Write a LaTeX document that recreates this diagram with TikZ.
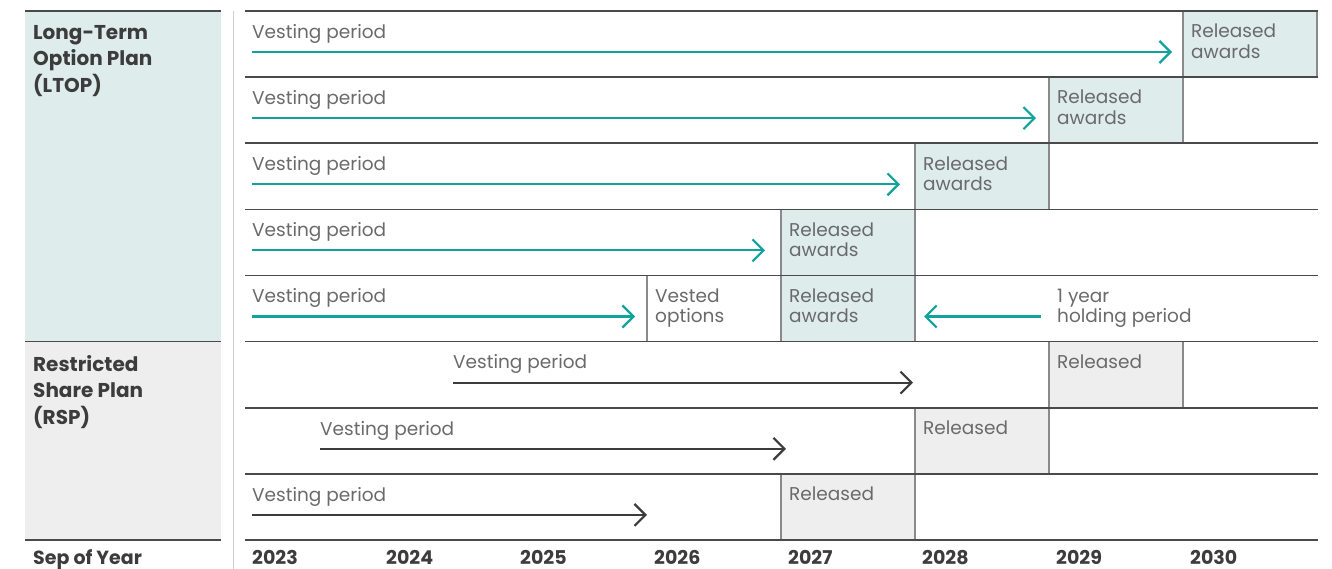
\documentclass[tikz,border=0pt]{standalone}
\usepackage{fontspec}
\setmainfont{Poppins}
\usetikzlibrary{arrows.meta,positioning}
\definecolor{tealarrow}{HTML}{0FA39B}
\definecolor{tealfill}{HTML}{DEECEB}
\definecolor{greyfill}{HTML}{EEEEEE}
\definecolor{txtgrey}{HTML}{6A6A6A}
\definecolor{darktxt}{HTML}{3C3C3C}
\definecolor{rulegrey}{HTML}{4A4A4A}
\definecolor{boxline}{HTML}{8A8A8A}

\begin{document}
\begin{tikzpicture}[x=1pt,y=-1pt,
        rel/.style={
        draw=boxline, line width=1.2pt,
        anchor=north west, inner sep=0pt, outer sep=0pt,
        minimum width=134pt, minimum height=66.1pt},
        ltopbox/.style={rel, fill=tealfill},
        rspbox/.style={rel, fill=greyfill},
        vestbox/.style={rel, fill=white},
        txt/.style={anchor=north west, align=left, inner sep=0pt,
        text=txtgrey, font=\fontsize{18.5}{20.5}\selectfont},
        head/.style={anchor=north west, align=left, inner sep=0pt,
        text=darktxt, font=\fontsize{20}{26.5}\selectfont\bfseries},
        yr/.style={anchor=base west, inner sep=0pt,
        text=darktxt, font=\fontsize{19}{20}\selectfont\bfseries},
        rowline/.style={draw=rulegrey, line width=1.6pt},
        vest/.style={draw=tealarrow, line width=2.2pt,
        -{Straight Barb[length=11pt,width=22pt]}},
        rspvest/.style={vest, draw=darktxt},
        ]

        \useasboundingbox (0,0) rectangle (1332,569);

        % plan column
        \fill[tealfill] (25,11) rectangle (221,341.6);
        \fill[greyfill] (25,341.6) rectangle (221,540);
        \foreach \y in {11,341.6,540}
            \draw[rowline] (25,\y) -- (221,\y);
        \draw[black!20, line width=1pt] (233,11) -- (233,569);

        \node (ltop) [head] at (33,25) {Long-Term\\Option Plan\\(LTOP)};
        \node (rsp) [head] at (33,355) {Restricted\\Share Plan\\(RSP)};

        % released boxes
        \node (r1) [ltopbox] at (1183,11){};
        \node (r2) [ltopbox] at (1049,77.1){};
        \node (r3) [ltopbox] at (915,143.3){};
        \node (r4) [ltopbox] at (781,209.4){};
        \node (o5) [vestbox] at (647,275.5){};
        \node (r5) [ltopbox] at (781,275.5){};
        \node (r6) [rspbox] at (1049,341.6){};
        \node (r7) [rspbox] at (915,407.8){};
        \node (r8) [rspbox] at (781,473.9){};

        \foreach \y in {11,77.1,143.3,209.4,275.5,341.6,407.8,473.9,540}
            \draw[rowline] (245,\y) -- (1318,\y);

        \node (t1) [txt, below right=13pt and 8pt of r1.north west] {Released\\awards};
        \node (t2) [txt, below right=13pt and 8pt of r2.north west] {Released\\awards};
        \node (t3) [txt, below right=13pt and 8pt of r3.north west] {Released\\awards};
        \node (t4) [txt, below right=13pt and 8pt of r4.north west] {Released\\awards};
        \node (t5) [txt, below right=13pt and 8pt of r5.north west] {Released\\awards};
        \node (to5) [txt, below right=13pt and 8pt of o5.north west] {Vested\\options};
        \node (t6) [txt, below right=13pt and 8pt of r6.north west] {Released};
        \node (t7) [txt, below right=13pt and 8pt of r7.north west] {Released};
        \node (t8) [txt, below right=13pt and 8pt of r8.north west] {Released};

        % vesting periods
        \node (p1) [txt] at (252,24){Vesting period};
        \node (p2) [txt] at (252,90.1){Vesting period};
        \node (p3) [txt] at (252,156.3){Vesting period};
        \node (p4) [txt] at (252,222.4){Vesting period};
        \node (p5) [txt] at (252,288.5){Vesting period};
        \node (p6) [txt] at (453,354.6){Vesting period};
        \node (p7) [txt] at (320,420.8){Vesting period};
        \node (p8) [txt] at (252,486.9){Vesting period};
        \node (h5) [txt] at (1057,288.5){1 year\\holding period};

        \coordinate (v1) at (252,52);
        \coordinate (v2) at (252,118.1);
        \coordinate (v3) at (252,184.3);
        \coordinate (v4) at (252,250.4);
        \coordinate (v5) at (252,316.5);
        \coordinate (w5) at (1041,316.5);
        \coordinate (v6) at (453,382.6);
        \coordinate (e6) at (913,382.6);
        \coordinate (v7) at (320,448.8);
        \coordinate (e7) at (786,448.8);
        \coordinate (v8) at (252,514.9);
        \coordinate (e8) at (647,514.9);

        \draw[vest, shorten >=11pt] (v1) -- (r1.west |- v1);
        \draw[vest, shorten >=13pt] (v2) -- (r2.west |- v2);
        \draw[vest, shorten >=15pt] (v3) -- (r3.west |- v3);
        \draw[vest, shorten >=16pt] (v4) -- (r4.west |- v4);
        \draw[vest, shorten >=12pt] (v5) -- (o5.west |- v5);
        \draw[vest, shorten >=9pt] (w5) -- (r5.east |- w5);
        \draw[rspvest] (v6) -- (e6);
        \draw[rspvest] (v7) -- (e7);
        \draw[rspvest] (v8) -- (e8);

        % years
        \node (sep) [yr] at (33,564.5){Sep of Year};
        \foreach \i/\yy in {0/2023,1/2024,2/2025,3/2026,4/2027,5/2028,6/2029,7/2030}
            \node (y\yy) [yr] at (252+134*\i,564.5){\yy};
\end{tikzpicture}
\end{document}
